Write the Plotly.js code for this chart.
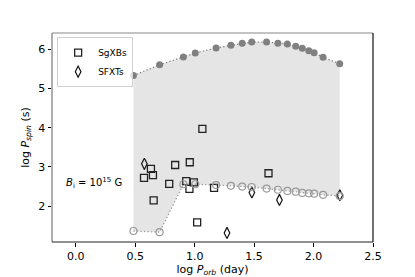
<!DOCTYPE html>
<html>
<head>
<meta charset="utf-8">
<script src="https://cdn.plot.ly/plotly-3.0.1.min.js"></script>
<style>html,body{margin:0;padding:0;background:#fff;}#chart{width:415px;height:277px;}</style>
</head>
<body>
<div id="chart"></div>
<script>
// Model curves (shared orbital-period grid)
const gridX = [0.485, 0.705, 0.905, 1.005, 1.18, 1.305, 1.40, 1.48, 1.605, 1.70, 1.78, 1.85, 1.905, 1.96, 2.005, 2.08, 2.22];
const upperY = [5.33, 5.60, 5.80, 5.90, 6.03, 6.10, 6.15, 6.18, 6.18, 6.15, 6.13, 6.07, 6.02, 5.96, 5.91, 5.79, 5.63];
const lowerY = [1.37, 1.34, 2.56, 2.56, 2.54, 2.52, 2.50, 2.49, 2.45, 2.42, 2.39, 2.37, 2.34, 2.33, 2.32, 2.29, 2.26];

// SgXBs
const sgxbX = [1.065, 0.632, 0.574, 0.649, 0.836, 0.959, 0.786, 0.929, 0.993, 0.956, 0.655, 1.021, 1.163, 1.621];
const sgxbY = [3.97, 2.95, 2.72, 2.79, 3.05, 3.12, 2.57, 2.64, 2.61, 2.44, 2.15, 1.59, 2.47, 2.84];

// SFXTs
const sfxtX = [0.577, 1.481, 1.713, 1.272, 2.221];
const sfxtY = [3.08, 2.35, 2.16, 1.32, 2.28];

// closed region between the two model curves
const bandX = gridX.concat(gridX.slice().reverse());
const bandY = upperY.concat(lowerY.slice().reverse());

const dotted = '1.3px,2.2px';

const traces = [
  {x: bandX, y: bandY, mode: 'none', type: 'scatter', fill: 'toself', fillcolor: '#e5e5e5', showlegend: false, hoverinfo: 'skip'},
  {x: sgxbX, y: sgxbY, mode: 'markers', type: 'scatter', name: 'SgXBs',
   marker: {symbol: 'square-open', size: 7, color: '#222', line: {width: 1.3, color: '#222'}}},
  {x: sfxtX, y: sfxtY, mode: 'markers', type: 'scatter', name: 'SFXTs',
   marker: {symbol: 'diamond-tall-open', size: 8, color: '#111', line: {width: 1.2, color: '#111'}}},
  {x: gridX, y: upperY, mode: 'lines+markers', type: 'scatter', showlegend: false,
   line: {color: '#808080', width: 1.3, dash: dotted},
   marker: {symbol: 'circle', size: 7, color: '#808080'}},
  {x: gridX, y: lowerY, mode: 'lines+markers', type: 'scatter', showlegend: false,
   line: {color: '#999999', width: 1.3, dash: dotted},
   marker: {symbol: 'circle-open', size: 7, color: '#999999', line: {width: 1.2, color: '#999999'}}}
];

const layout = {
  width: 415, height: 277,
  margin: {l: 52, r: 42, t: 33, b: 35},
  paper_bgcolor: '#fff', plot_bgcolor: '#fff',
  font: {family: 'DejaVu Sans', size: 11, color: '#000'},
  xaxis: {
    range: [-0.2, 2.5], tickvals: [0, 0.5, 1.0, 1.5, 2.0, 2.5], ticktext: ['0.0','0.5','1.0','1.5','2.0','2.5'],
    ticks: 'outside', ticklen: 3.5, tickwidth: 1, tickcolor: '#000',
    showgrid: false, zeroline: false, showline: false,
    title: {text: 'log <i>P<sub>orb</sub></i> (day)', font: {size: 11}, standoff: 4}
  },
  yaxis: {
    range: [1.09, 6.41], tickvals: [2, 3, 4, 5, 6],
    ticks: 'outside', ticklen: 3.5, tickwidth: 1, tickcolor: '#000',
    showgrid: false, zeroline: false, showline: false,
    title: {text: 'log <i>P<sub>spin</sub></i> (s)', font: {size: 11}, standoff: 6}
  },
  legend: {
    x: 0.016, y: 0.98, xanchor: 'left', yanchor: 'top', traceorder: 'normal',
    bgcolor: 'rgba(255,255,255,0.8)', bordercolor: '#d0d0d0', borderwidth: 1,
    font: {size: 9}, tracegroupgap: 0, itemwidth: 30
  },
  annotations: [{
    x: -0.1, y: 2.6, xref: 'x', yref: 'y', xanchor: 'left', yanchor: 'middle',
    text: '<i>B</i><sub>i</sub> = 10<sup>15</sup> G', showarrow: false, font: {size: 10}
  }],
  shapes: [
    {type: 'line', xref: 'paper', yref: 'paper', x0: 0, x1: 1, y0: 1, y1: 1, line: {color: '#888', width: 1.2}},
    {type: 'line', xref: 'paper', yref: 'paper', x0: 0, x1: 0, y0: 0, y1: 1, line: {color: '#777', width: 1.2}},
    {type: 'line', xref: 'paper', yref: 'paper', x0: 1, x1: 1, y0: 0, y1: 1, line: {color: '#111', width: 1.2}},
    {type: 'line', xref: 'paper', yref: 'paper', x0: 0, x1: 1, y0: 0, y1: 0, line: {color: '#222', width: 1.2}}
  ]
};

Plotly.newPlot('chart', traces, layout, {displayModeBar: false, staticPlot: true});
</script>
</body>
</html>
